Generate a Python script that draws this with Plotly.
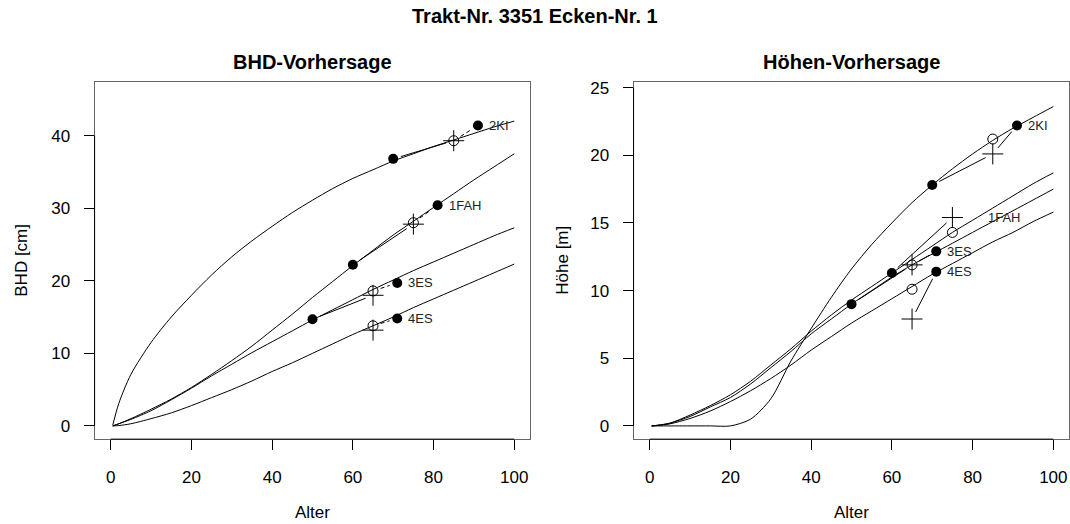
import math
import plotly.graph_objects as go

# ---------------- data ----------------
trees = ["1FAH", "2KI", "3ES", "4ES"]
age_meas1 = [60, 70, 50, None]
age_meas2 = [81, 91, 71, 71]
age_pred = [75, 85, 65, 65]

bhd_meas1 = [22.2, 36.8, 14.7, None]
bhd_meas2 = [30.4, 41.4, 19.7, 14.8]
bhd_curve_pred = [28.0, 39.3, 18.6, 13.8]
bhd_incr_pred = [27.8, 39.3, 18.0, 13.2]

h_meas1 = [11.3, 17.8, 9.0, None]
h_meas2 = [None, 22.2, 12.9, 11.4]
h_curve_pred = [14.3, 21.2, 11.9, 10.1]
h_incr_pred = [15.4, 20.1, 11.9, 7.9]

curve_ages = [0.5, 2, 5, 10, 15, 20, 25, 30, 35, 40, 45, 50, 55, 60, 65, 70, 75, 80, 85, 90, 95, 100]

bhd_curve_1FAH = [0, 0.3, 1.0, 2.3, 3.7, 5.3, 7.1, 9.0, 11.0, 13.2, 15.4, 17.7, 19.9, 22.1, 24.2, 26.3, 28.2, 30.1, 32.0, 33.9, 35.7, 37.5]
bhd_curve_2KI = [0.1, 3.1, 7.1, 11.5, 15.0, 18.0, 20.8, 23.3, 25.5, 27.5, 29.4, 31.1, 32.7, 34.1, 35.3, 36.5, 37.5, 38.5, 39.4, 40.3, 41.2, 42.0]
bhd_curve_3ES = [0, 0.3, 0.9, 2.1, 3.6, 5.2, 6.9, 8.5, 10.1, 11.6, 13.1, 14.6, 16.0, 17.4, 18.8, 20.1, 21.4, 22.6, 23.8, 25.0, 26.2, 27.3]
bhd_curve_4ES = [0, 0.05, 0.3, 1.0, 1.8, 2.8, 3.9, 5.0, 6.2, 7.5, 8.7, 10.0, 11.3, 12.6, 13.8, 15.0, 16.3, 17.5, 18.7, 19.9, 21.1, 22.3]

h_curve_1FAH = [0, 0.05, 0.2, 0.8, 1.5, 2.3, 3.3, 4.5, 5.7, 7.0, 8.2, 9.3, 10.3, 11.3, 12.3, 13.3, 14.3, 15.2, 16.1, 17.0, 17.9, 18.7]
h_curve_2KI = [0, 0, 0, 0, 0, 0, 0.5, 2.0, 4.8, 7.2, 9.5, 11.6, 13.4, 15.0, 16.5, 17.8, 19.0, 20.1, 21.1, 22.0, 22.8, 23.6]
h_curve_3ES = [0, 0.05, 0.2, 0.7, 1.4, 2.1, 3.1, 4.3, 5.5, 6.8, 7.9, 9.0, 10.0, 11.0, 11.9, 12.7, 13.5, 14.3, 15.1, 15.9, 16.7, 17.5]
h_curve_4ES = [0, 0.03, 0.15, 0.55, 1.1, 1.8, 2.6, 3.5, 4.5, 5.6, 6.6, 7.6, 8.5, 9.4, 10.3, 11.2, 12.0, 12.8, 13.6, 14.3, 15.1, 15.8]

bhd_curves = [bhd_curve_1FAH, bhd_curve_2KI, bhd_curve_3ES, bhd_curve_4ES]
h_curves = [h_curve_1FAH, h_curve_2KI, h_curve_3ES, h_curve_4ES]

x_ticks = [0, 20, 40, 60, 80, 100]
bhd_ticks = [0, 10, 20, 30, 40]
h_ticks = [0, 5, 10, 15, 20, 25]

main_title = "Trakt-Nr. 3351 Ecken-Nr. 1"
left_title = "BHD-Vorhersage"
right_title = "Höhen-Vorhersage"

# ---------------- layout geometry ----------------
W, H = 1070, 524
FONT = "Liberation Sans, Arial, sans-serif"
x_range = [-4, 104]
bhd_range = [-1.82, 47.36]
h_range = [-0.977, 25.40]
dom_left = [0.0884, 0.4957]
dom_right = [0.5921, 0.9995]
dom_y = [0.1632, 0.8496]

fig = go.Figure()


def scale(rng, dom, total):
    return (dom[1] - dom[0]) * total / (rng[1] - rng[0])


def gap_segment(x0, y0, x1, y1, sx, sy, g=8):
    dx, dy = (x1 - x0) * sx, (y1 - y0) * sy
    L = math.hypot(dx, dy)
    if L <= 2 * g:
        return None
    f = g / L
    return ([x0 + (x1 - x0) * f, x1 - (x1 - x0) * f],
            [y0 + (y1 - y0) * f, y1 - (y1 - y0) * f])


def add_panel(xa, ya, curves, meas1, meas2, curve_pred, incr_pred, yrng, dom, left_panel):
    sx = scale(x_range, dom, W)
    sy = scale(yrng, dom_y, H)
    for c in curves:
        fig.add_trace(go.Scatter(x=curve_ages, y=c, mode="lines", xaxis=xa, yaxis=ya,
                                 line=dict(color="black", width=1, shape="spline", smoothing=0.8),
                                 hoverinfo="skip", showlegend=False))
    for i, t in enumerate(trees):
        if meas1[i] is not None:
            s = gap_segment(age_meas1[i], meas1[i], age_pred[i], incr_pred[i], sx, sy)
            if s:
                fig.add_trace(go.Scatter(x=s[0], y=s[1], mode="lines", xaxis=xa, yaxis=ya,
                                         line=dict(color="black", width=1), showlegend=False, hoverinfo="skip"))
        if meas2[i] is not None:
            if left_panel:
                s = gap_segment(age_pred[i], curve_pred[i], age_meas2[i], meas2[i], sx, sy)
                dash = "4px,3px"
            else:
                s = gap_segment(age_pred[i], incr_pred[i], age_meas2[i], meas2[i], sx, sy)
                dash = "solid"
            if s:
                fig.add_trace(go.Scatter(x=s[0], y=s[1], mode="lines", xaxis=xa, yaxis=ya,
                                         line=dict(color="black", width=1, dash=dash),
                                         showlegend=False, hoverinfo="skip"))
    fx = [a for a, v in zip(age_meas1, meas1) if v is not None] + \
         [a for a, v in zip(age_meas2, meas2) if v is not None]
    fy = [v for v in meas1 if v is not None] + [v for v in meas2 if v is not None]
    fig.add_trace(go.Scatter(x=fx, y=fy, mode="markers", xaxis=xa, yaxis=ya,
                             marker=dict(symbol="circle", size=10, color="black"),
                             showlegend=False, hoverinfo="skip"))
    fig.add_trace(go.Scatter(x=age_pred, y=curve_pred, mode="markers", xaxis=xa, yaxis=ya,
                             marker=dict(symbol="circle-open", size=10, color="black",
                                         line=dict(width=1, color="black")),
                             showlegend=False, hoverinfo="skip"))
    fig.add_trace(go.Scatter(x=age_pred, y=incr_pred, mode="markers", xaxis=xa, yaxis=ya,
                             marker=dict(symbol="cross-thin-open", size=15, color="black",
                                         line=dict(width=1, color="black")),
                             showlegend=False, hoverinfo="skip"))
    for i, t in enumerate(trees):
        ly = meas2[i] if meas2[i] is not None else incr_pred[i]
        fig.add_annotation(x=age_meas2[i], y=ly, xref=xa, yref=ya, text=t, showarrow=False,
                           xanchor="left", yanchor="middle", xshift=9,
                           font=dict(family=FONT, size=13, color="#222"))


add_panel("x", "y", bhd_curves, bhd_meas1, bhd_meas2, bhd_curve_pred, bhd_incr_pred,
          bhd_range, dom_left, True)
add_panel("x2", "y2", h_curves, h_meas1, h_meas2, h_curve_pred, h_incr_pred,
          h_range, dom_right, False)

axis_common = dict(showgrid=False, zeroline=False, showline=True, mirror=True,
                   linecolor="#666", linewidth=1, ticks="outside", ticklen=10,
                   tickcolor="black", tickwidth=1,
                   tickfont=dict(family=FONT, size=17, color="black"))

fig.update_layout(
    width=W, height=H, margin=dict(l=0, r=0, t=0, b=0),
    paper_bgcolor="white", plot_bgcolor="white",
    xaxis=dict(domain=dom_left, range=x_range, tickvals=x_ticks, anchor="y",
               ticklabelstandoff=12, **axis_common),
    yaxis=dict(domain=dom_y, range=bhd_range, tickvals=bhd_ticks, anchor="x",
               ticklabelstandoff=10, **axis_common),
    xaxis2=dict(domain=dom_right, range=x_range, tickvals=x_ticks, anchor="y2",
                ticklabelstandoff=12, **axis_common),
    yaxis2=dict(domain=dom_y, range=h_range, tickvals=h_ticks, anchor="x2",
                ticklabelstandoff=10, **axis_common),
)

for xa, ya, yt in [("x", "y", bhd_ticks), ("x2", "y2", h_ticks)]:
    fig.add_shape(type="line", xref=xa, yref=ya + " domain", x0=x_ticks[0], x1=x_ticks[-1],
                  y0=0, y1=0, line=dict(color="black", width=1))
    fig.add_shape(type="line", xref=xa + " domain", yref=ya, x0=0, x1=0, y0=yt[0], y1=yt[-1],
                  line=dict(color="black", width=1))

fig.add_annotation(x=0.5, y=1 - 12 / H, xref="paper", yref="paper", text="<b>%s</b>" % main_title,
                   showarrow=False, xanchor="center", yanchor="middle",
                   font=dict(family=FONT, size=20, color="black"))
for dom, txt in [(dom_left, left_title), (dom_right, right_title)]:
    fig.add_annotation(x=(dom[0] + dom[1]) / 2, y=1 - 58 / H, xref="paper", yref="paper",
                       text="<b>%s</b>" % txt, showarrow=False, xanchor="center", yanchor="middle",
                       font=dict(family=FONT, size=20, color="black"))
    fig.add_annotation(x=(dom[0] + dom[1]) / 2, y=1 - 512 / H, xref="paper", yref="paper",
                       text="Alter", showarrow=False, xanchor="center", yanchor="middle",
                       font=dict(family=FONT, size=17, color="black"))

ymid = 1 - 258.7 / H
fig.add_annotation(x=22 / W, y=ymid, xref="paper", yref="paper", text="BHD [cm]", textangle=-90,
                   showarrow=False, xanchor="center", yanchor="middle",
                   font=dict(family=FONT, size=17, color="black"))
fig.add_annotation(x=563 / W, y=ymid, xref="paper", yref="paper", text="Höhe [m]", textangle=-90,
                   showarrow=False, xanchor="center", yanchor="middle",
                   font=dict(family=FONT, size=17, color="black"))

fig.write_html("out.html", config={"displayModeBar": False},
               post_script="document.body.style.margin='0px';document.body.style.overflow='hidden';")
